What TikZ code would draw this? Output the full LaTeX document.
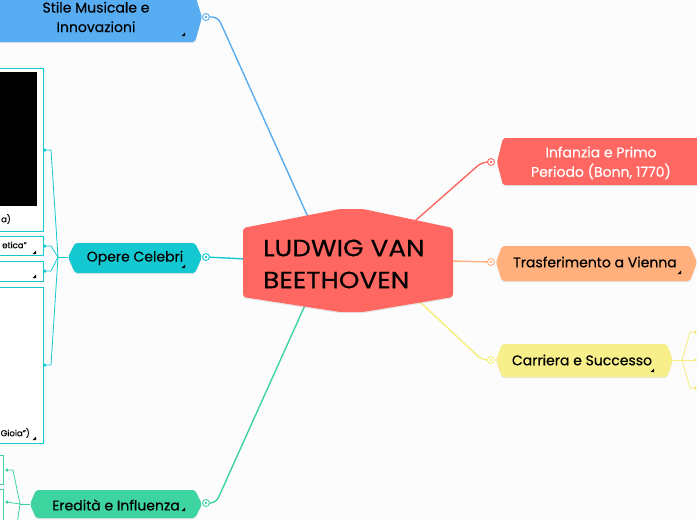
\documentclass[tikz,border=0pt]{standalone}
\usepackage{fontspec}
\setmainfont{Poppins}[FakeBold=0.4]
\newfontfamily\rootfont{Poppins}[FakeStretch=1.12,FakeBold=0.5]
\usetikzlibrary{shadows}
\definecolor{paper}{RGB}{252,252,252}
\definecolor{beetred}{RGB}{255,104,98}
\definecolor{stileblue}{RGB}{88,172,242}
\definecolor{operteal}{RGB}{20,200,210}
\definecolor{eredgreen}{RGB}{62,212,160}
\definecolor{viennaorange}{RGB}{255,176,124}
\definecolor{carrieryellow}{RGB}{247,240,138}
\definecolor{yellowline}{RGB}{246,236,120}

\tikzset{
  knob/.style={circle,draw=#1,fill=white,line width=0.9pt,minimum size=7pt,inner sep=0pt,
    path picture={\fill[#1] (path picture bounding box.center) circle (1.3pt);}},
  leafdot/.style={circle,fill=#1,inner sep=0pt,minimum size=3.5pt},
  leafbox/.style={draw=operteal,line width=0.9pt,fill=white},
  branch/.style={line width=1.4pt,rounded corners=6pt},
  twig/.style={line width=0.8pt},
  topic/.style={font=\fontsize{14}{19.5}\selectfont,align=center,inner sep=0pt},
  leaftext/.style={font=\fontsize{8.5}{10}\selectfont,anchor=east,inner sep=0pt},
  soft/.style={drop shadow={opacity=0.18,shadow xshift=0pt,shadow yshift=-1.2pt}},
}

\begin{document}
\begin{tikzpicture}[x=1pt,y=-1pt]
  \useasboundingbox (0,0) rectangle (697,520);
  \fill[paper] (0,0) rectangle (697,520);
  \clip (0,0) rectangle (697,520);

  % knobs and attach points
  \node[knob=stileblue] (kS) at (206,17) {};
  \node[knob=operteal] (kO) at (206,257) {};
  \node[knob=eredgreen] (kE) at (206,503) {};
  \node[knob=beetred] (kI) at (491,162) {};
  \node[knob=viennaorange] (kT) at (491,262) {};
  \node[knob=yellowline] (kC) at (491,360) {};
  \coordinate (rootS) at (308,217);
  \coordinate (rootO) at (246,259);
  \coordinate (rootE) at (306,303);
  \coordinate (rootI) at (415,221);
  \coordinate (rootT) at (452,261);
  \coordinate (rootC) at (420,302);

  % main branches
  \draw[branch,stileblue] (kS) -- (218,17) -- (rootS);
  \draw[branch,operteal] (kO) -- (rootO);
  \draw[branch,eredgreen] (kE) -- (216,503) -- (rootE);
  \draw[branch,beetred] (rootI) -- (482,162) -- (kI);
  \draw[branch,viennaorange] (rootT) -- (kT);
  \draw[branch,yellowline] (rootC) -- (482,360) -- (kC);

  % central topic
  \fill[beetred,rounded corners=3pt,soft] (243,228) -- (340,209) -- (363,209) -- (453,228)
    -- (453,297) -- (363,312) -- (340,312) -- (243,297) -- cycle;
  \node[font=\rootfont\fontsize{23.5}{32}\selectfont,align=left,anchor=west,inner sep=0pt] (root) at (263,264)
    {LUDWIG VAN\\BEETHOVEN};

  % right topics
  \fill[beetred,rounded corners=2pt,soft] (497,162) -- (503,138) -- (710,138) -- (710,185) -- (503,185) -- cycle;
  \node[topic,text=white] (infanzia) at (601,163) {Infanzia e Primo\\Periodo (Bonn, 1770)};
  \fill[viennaorange,rounded corners=2pt,soft] (496,262) -- (502,246) -- (690,246) -- (697,262) -- (690,281) -- (502,281) -- cycle;
  \node[topic] (vienna) at (595,262) {Trasferimento a Vienna};
  \fill[carrieryellow,rounded corners=2pt,soft] (496,360) -- (502,344) -- (667,344) -- (673,360) -- (667,377) -- (502,377) -- cycle;
  \node[topic] (carriera) at (582,360) {Carriera e Successo};

  % left topics
  \fill[stileblue,rounded corners=2pt,soft] (-8,-8) -- (194,-8) -- (202,17) -- (195,42) -- (-8,42) -- cycle;
  \node[topic] (stile) at (96,17) {Stile Musicale e\\Innovazioni};
  \fill[operteal,rounded corners=2pt,soft] (68,257) -- (75,243) -- (195,243) -- (202,257) -- (195,273) -- (75,273) -- cycle;
  \node[topic] (opere) at (135,258) {Opere Celebri};
  \fill[eredgreen,rounded corners=2pt,soft] (30,504) -- (36,490) -- (195,490) -- (202,504) -- (195,518) -- (36,518) -- cycle;
  \node[topic] (eredita) at (116,505) {Eredità e Influenza};

  % opere celebri leaves
  \draw[leafbox] (-5,68) rectangle (43,231);
  \fill[black] (-5,72) rectangle (37,206);
  \node[leaftext] (opA) at (11,219) {a)};
  \draw[leafbox] (-5,236) rectangle (43,255);
  \node[leaftext] (opB) at (27,245) {etica”};
  \draw[leafbox] (-5,261) rectangle (43,281);
  \draw[leafbox] (-5,287) rectangle (43,443);
  \node[leaftext] (opD) at (30,433) {Gioia”)};
  \coordinate (fO) at (58,257);
  \node[leafdot=operteal] (dA) at (45,150) {};
  \node[leafdot=operteal] (dB) at (45,246) {};
  \node[leafdot=operteal] (dC) at (45,271) {};
  \node[leafdot=operteal] (dD) at (45,365) {};
  \draw[twig,operteal] (68,257) -- (fO);
  \draw[twig,operteal] (fO) -- (51,150) -- (dA);
  \draw[twig,operteal] (fO) -- (51,246) -- (dB);
  \draw[twig,operteal] (fO) -- (51,271) -- (dC);
  \draw[twig,operteal] (fO) -- (51,365) -- (dD);

  % eredita leaves
  \draw[leafbox,draw=eredgreen] (-5,455) rectangle (3,484);
  \draw[leafbox,draw=eredgreen] (-5,489) rectangle (3,530);
  \coordinate (fE) at (20,504);
  \node[leafdot=eredgreen] (dE1) at (7,470) {};
  \node[leafdot=eredgreen] (dE2) at (7,502) {};
  \draw[twig,eredgreen] (30,504) -- (fE);
  \draw[twig,eredgreen] (fE) -- (13,470) -- (dE1);
  \draw[twig,eredgreen] (fE) -- (dE2);
  \draw[twig,eredgreen] (fE) -- (17,525);

  % carriera leaves
  \coordinate (fC) at (682,360);
  \node[leafdot=yellowline] (dC1) at (695,332) {};
  \node[leafdot=yellowline] (dC2) at (695,360) {};
  \node[leafdot=yellowline] (dC3) at (695,388) {};
  \draw[twig,yellowline] (673,360) -- (fC);
  \draw[twig,yellowline] (fC) -- (690,332) -- (dC1);
  \draw[twig,yellowline] (fC) -- (dC2);
  \draw[twig,yellowline] (fC) -- (690,388) -- (dC3);

  % fold marks
  \foreach \p in {(185,36),(185,268),(185,511),(681,274),(654,372),(36,254),(36,278),(36,440)}
    \fill \p -- ++(0,-3.5) -- ++(-3.5,3.5) -- cycle;
\end{tikzpicture}
\end{document}
